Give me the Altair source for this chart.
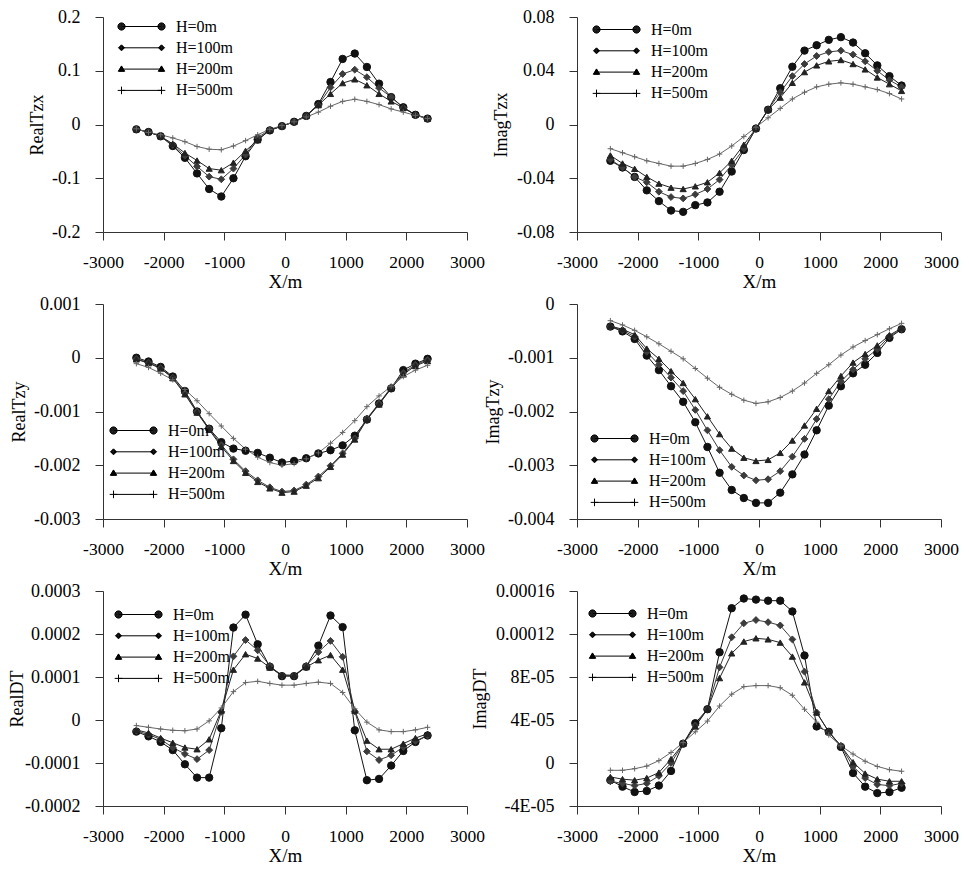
import altair as alt
import pandas as pd

# ---------------- data ----------------
X_M = [-2450, -2250, -2050, -1850, -1650, -1450, -1250, -1050, -850, -650, -450, -250,
       -50, 150, 350, 550, 750, 950, 1150, 1350, 1550, 1750, 1950, 2150, 2350]
SERIES = ["H=0m", "H=100m", "H=200m", "H=500m"]

REAL_TZX_H0 = [-0.009, -0.014, -0.022, -0.040, -0.062, -0.091, -0.120, -0.134, -0.100, -0.059, -0.028, -0.011, -0.003, 0.005, 0.016, 0.038, 0.079, 0.122, 0.132, 0.107, 0.076, 0.051, 0.032, 0.018, 0.011]
REAL_TZX_H100 = [-0.009, -0.014, -0.022, -0.038, -0.058, -0.078, -0.097, -0.102, -0.082, -0.056, -0.024, -0.010, -0.003, 0.005, 0.016, 0.036, 0.069, 0.094, 0.102, 0.088, 0.068, 0.051, 0.031, 0.018, 0.011]
REAL_TZX_H200 = [-0.009, -0.014, -0.022, -0.036, -0.053, -0.067, -0.082, -0.085, -0.071, -0.049, -0.029, -0.010, -0.003, 0.005, 0.016, 0.036, 0.057, 0.077, 0.084, 0.073, 0.057, 0.043, 0.031, 0.018, 0.011]
REAL_TZX_H500 = [-0.008, -0.015, -0.019, -0.025, -0.032, -0.041, -0.046, -0.047, -0.040, -0.030, -0.019, -0.009, -0.002, 0.005, 0.014, 0.023, 0.034, 0.043, 0.047, 0.043, 0.037, 0.029, 0.023, 0.017, 0.011]

IMAG_TZX_H0 = [-0.027, -0.032, -0.039, -0.049, -0.057, -0.064, -0.065, -0.060, -0.058, -0.050, -0.035, -0.019, -0.003, 0.011, 0.027, 0.043, 0.055, 0.059, 0.063, 0.065, 0.061, 0.053, 0.044, 0.036, 0.029]
IMAG_TZX_H100 = [-0.026, -0.032, -0.039, -0.043, -0.050, -0.054, -0.055, -0.052, -0.048, -0.041, -0.030, -0.018, -0.003, 0.011, 0.024, 0.036, 0.045, 0.051, 0.054, 0.055, 0.052, 0.047, 0.040, 0.033, 0.028]
IMAG_TZX_H200 = [-0.023, -0.029, -0.033, -0.039, -0.044, -0.047, -0.048, -0.046, -0.043, -0.036, -0.027, -0.015, -0.003, 0.011, 0.020, 0.031, 0.039, 0.044, 0.047, 0.048, 0.045, 0.041, 0.035, 0.030, 0.025]
IMAG_TZX_H500 = [-0.018, -0.021, -0.024, -0.027, -0.029, -0.031, -0.031, -0.029, -0.026, -0.022, -0.016, -0.009, -0.002, 0.005, 0.012, 0.019, 0.024, 0.028, 0.030, 0.031, 0.030, 0.028, 0.026, 0.023, 0.019]

REAL_TZY_H0 = [0.0, -0.00007, -0.00017, -0.00035, -0.00062, -0.00100, -0.00132, -0.00157, -0.00169, -0.00173, -0.00177, -0.00186, -0.00195, -0.00192, -0.00187, -0.00178, -0.00172, -0.00163, -0.00145, -0.00115, -0.00085, -0.00057, -0.00023, -0.00011, -0.00002]
REAL_TZY_H100 = [-0.00002, -0.00009, -0.00019, -0.00037, -0.00066, -0.00100, -0.00132, -0.00162, -0.00189, -0.00211, -0.00228, -0.00241, -0.00249, -0.00247, -0.00236, -0.00221, -0.00201, -0.00178, -0.00150, -0.00113, -0.00085, -0.00055, -0.00028, -0.00013, -0.00004]
REAL_TZY_H200 = [-0.00003, -0.00010, -0.00020, -0.00038, -0.00068, -0.00102, -0.00134, -0.00165, -0.00192, -0.00214, -0.00231, -0.00243, -0.00251, -0.00249, -0.00238, -0.00224, -0.00203, -0.00180, -0.00152, -0.00115, -0.00087, -0.00057, -0.00031, -0.00015, -0.00006]
REAL_TZY_H500 = [-0.00011, -0.00018, -0.00029, -0.00041, -0.00059, -0.00080, -0.00104, -0.00127, -0.00150, -0.00170, -0.00185, -0.00195, -0.00200, -0.00197, -0.00188, -0.00177, -0.00159, -0.00139, -0.00117, -0.00091, -0.00071, -0.00053, -0.00035, -0.00023, -0.00014]

IMAG_TZY_H0 = [-0.00042, -0.00051, -0.00065, -0.00096, -0.00123, -0.00153, -0.00182, -0.00220, -0.00266, -0.00314, -0.00346, -0.00361, -0.00370, -0.00370, -0.00351, -0.00317, -0.00280, -0.00235, -0.00189, -0.00153, -0.00129, -0.00113, -0.00091, -0.00063, -0.00047]
IMAG_TZY_H100 = [-0.00042, -0.00049, -0.00061, -0.00089, -0.00113, -0.00137, -0.00162, -0.00197, -0.00235, -0.00272, -0.00303, -0.00319, -0.00328, -0.00326, -0.00311, -0.00284, -0.00251, -0.00214, -0.00177, -0.00144, -0.00122, -0.00102, -0.00084, -0.00060, -0.00047]
IMAG_TZY_H200 = [-0.00041, -0.00047, -0.00057, -0.00083, -0.00102, -0.00125, -0.00147, -0.00177, -0.00209, -0.00242, -0.00269, -0.00286, -0.00292, -0.00290, -0.00277, -0.00254, -0.00226, -0.00195, -0.00162, -0.00134, -0.00109, -0.00093, -0.00077, -0.00058, -0.00045]
IMAG_TZY_H500 = [-0.00031, -0.00039, -0.00049, -0.00061, -0.00074, -0.00088, -0.00102, -0.00120, -0.00138, -0.00155, -0.00168, -0.00179, -0.00185, -0.00182, -0.00174, -0.00162, -0.00147, -0.00129, -0.00113, -0.00095, -0.00080, -0.00068, -0.00057, -0.00046, -0.00036]

REAL_DT_H0 = [-0.000027, -0.000038, -0.000051, -0.000070, -0.000103, -0.000134, -0.000134, -0.000019, 0.000215, 0.000245, 0.000176, 0.000124, 0.000102, 0.000102, 0.000124, 0.000173, 0.000243, 0.000216, -0.000024, -0.000140, -0.000137, -0.000106, -0.000072, -0.000051, -0.000036]
REAL_DT_H100 = [-0.000025, -0.000034, -0.000045, -0.000064, -0.000079, -0.000091, -0.000070, 0.000019, 0.000148, 0.000186, 0.000162, 0.000126, 0.000103, 0.000103, 0.000126, 0.000158, 0.000184, 0.000147, 0.000020, -0.000073, -0.000093, -0.000082, -0.000063, -0.000049, -0.000036]
REAL_DT_H200 = [-0.000023, -0.000030, -0.000042, -0.000053, -0.000064, -0.000068, -0.000045, 0.000022, 0.000117, 0.000153, 0.000143, 0.000122, 0.000105, 0.000104, 0.000123, 0.000139, 0.000151, 0.000117, 0.000022, -0.000048, -0.000068, -0.000068, -0.000055, -0.000042, -0.000032]
REAL_DT_H500 = [-0.000013, -0.000017, -0.000021, -0.000024, -0.000025, -0.000021, -0.000002, 0.000028, 0.000066, 0.000087, 0.000090, 0.000085, 0.000081, 0.000081, 0.000085, 0.000088, 0.000085, 0.000064, 0.000026, -0.000005, -0.000023, -0.000027, -0.000027, -0.000023, -0.000017]

IMAG_DT_H0 = [-0.000016, -0.000022, -0.000027, -0.000026, -0.000021, -0.0000074, 0.000018, 0.000037, 0.000050, 0.000103, 0.000144, 0.000153, 0.000152, 0.000151, 0.000151, 0.000141, 0.000100, 0.000034, 0.000029, 0.000015, -0.0000093, -0.000022, -0.000028, -0.000027, -0.000023]
IMAG_DT_H100 = [-0.000017, -0.000019, -0.000021, -0.000019, -0.000012, 0.0, 0.000018, 0.000035, 0.000050, 0.000089, 0.000117, 0.000130, 0.000133, 0.000131, 0.000128, 0.000115, 0.000085, 0.000047, 0.000029, 0.000016, -0.0000032, -0.000014, -0.000020, -0.000021, -0.000019]
IMAG_DT_H200 = [-0.000013, -0.000015, -0.000016, -0.000014, -0.0000089, 0.0000037, 0.000018, 0.000034, 0.000050, 0.000079, 0.000102, 0.000113, 0.000116, 0.000115, 0.000112, 0.000099, 0.000075, 0.000047, 0.000029, 0.000016, 0.0000007, -0.0000098, -0.000015, -0.000017, -0.000017]
IMAG_DT_H500 = [-0.0000068, -0.0000068, -0.0000053, -0.0000029, 0.0000022, 0.0000098, 0.000019, 0.000029, 0.000039, 0.000053, 0.000064, 0.000071, 0.000072, 0.000072, 0.000070, 0.000063, 0.000050, 0.000038, 0.000026, 0.000016, 0.0000083, 0.0000016, -0.0000032, -0.0000062, -0.0000077]

X_TICKS = [-3000, -2000, -1000, 0, 1000, 2000, 3000]
X_TICK_LABELS = ["-3000", "-2000", "-1000", "0", "1000", "2000", "3000"]

Y1_TICKS = [-0.2, -0.1, 0, 0.1, 0.2]
Y1_LABELS = ["-0.2", "-0.1", "0", "0.1", "0.2"]
Y2_TICKS = [-0.08, -0.04, 0, 0.04, 0.08]
Y2_LABELS = ["-0.08", "-0.04", "0", "0.04", "0.08"]
Y3_TICKS = [-0.003, -0.002, -0.001, 0, 0.001]
Y3_LABELS = ["-0.003", "-0.002", "-0.001", "0", "0.001"]
Y4_TICKS = [-0.004, -0.003, -0.002, -0.001, 0]
Y4_LABELS = ["-0.004", "-0.003", "-0.002", "-0.001", "0"]
Y5_TICKS = [-0.0002, -0.0001, 0, 0.0001, 0.0002, 0.0003]
Y5_LABELS = ["-0.0002", "-0.0001", "0", "0.0001", "0.0002", "0.0003"]
Y6_TICKS = [-0.00004, 0, 0.00004, 0.00008, 0.00012, 0.00016]
Y6_LABELS = ["-4E-05", "0", "4E-05", "8E-05", "0.00012", "0.00016"]

# ---------------- style ----------------
FONT = "Liberation Serif"
W, H = 364, 215
LINE_COLORS = ["#111111", "#3c3c3c", "#222222", "#666666"]
POINT_SHAPES = ["circle", "diamond", "triangle-up", "M-1,0L1,0M0,-1L0,1"]
POINT_SIZES = [55, 30, 30, 45]


# legend glyphs: a line with a marker at each end (unit = sqrt(symbolSize)/2 px),
# markers drawn as nested outlines so they look solid with a stroke-only symbol
def _circle(cx, r):
    return f"M{cx - r:.3f},0A{r:.3f},{r:.3f} 0 1,1 {cx + r:.3f},0A{r:.3f},{r:.3f} 0 1,1 {cx - r:.3f},0Z"


def _diamond(cx, r):
    return f"M{cx - r:.3f},0L{cx:.3f},{-r:.3f}L{cx + r:.3f},0L{cx:.3f},{r:.3f}Z"


def _triangle(cx, r):
    return f"M{cx - r:.3f},{0.7 * r:.3f}L{cx:.3f},{-r:.3f}L{cx + r:.3f},{0.7 * r:.3f}Z"


def _nested(fn, r, step=0.05):
    out = []
    for cx in (-2, 2):
        rr = r
        while rr > 0.02:
            out.append(fn(cx, rr))
            rr -= step
    return "".join(out)


LEGEND_SHAPES = [
    "M-2,0L2,0" + _nested(_circle, 0.36),
    "M-2,0L2,0" + _nested(_diamond, 0.30),
    "M-2,0L2,0" + _nested(_triangle, 0.32),
    "M-2,0L2,0M-2.38,0L-1.62,0M-2,-0.38L-2,0.38M1.62,0L2.38,0M2,-0.38L2,0.38",
]


def label_expr(values, labels, eps):
    parts = [f"abs(datum.value - ({v!r})) < {eps!r} ? '{l}'" for v, l in zip(values, labels)]
    return " : ".join(parts) + " : ''"


def panel(title, series, yticks, ylabels, title_x, legend_x, legend_y):
    rows = []
    for name, vals in zip(SERIES, series):
        for x, v in zip(X_M, vals):
            rows.append({"x": x, "v": v, "H": name})
    df = pd.DataFrame(rows)
    eps = abs(yticks[1] - yticks[0]) * 0.01

    xenc = alt.X("x:Q", scale=alt.Scale(domain=[-3000, 3000], nice=False, zero=False),
                 axis=alt.Axis(values=X_TICKS, labelExpr=label_expr(X_TICKS, X_TICK_LABELS, 1.0),
                               title="X/m", titleX=W / 2, titleY=55, titleBaseline="alphabetic",
                               titleAlign="center", titleFontSize=19, labelFontSize=17.5,
                               tickSize=8, labelPadding=13, labelFlush=False, labelOverlap=False))
    yenc = alt.Y("v:Q", scale=alt.Scale(domain=[yticks[0], yticks[-1]], nice=False, zero=False),
                 axis=alt.Axis(values=yticks, labelExpr=label_expr(yticks, ylabels, eps),
                               title=title, titleX=title_x, titleY=H / 2, titleAngle=270,
                               titleBaseline="middle", titleAlign="center", titleFontSize=18,
                               labelFontSize=18, tickSize=8, labelPadding=15, labelOverlap=False,
                               labelFlush=False))
    base = alt.Chart(df)
    lines = base.mark_line(strokeWidth=1).encode(
        x=xenc, y=yenc, detail="H:N",
        color=alt.Color("H:N", scale=alt.Scale(domain=SERIES, range=LINE_COLORS), legend=None))
    pts = base.mark_point(filled=True, strokeWidth=1, opacity=1).encode(
        x=xenc, y=yenc,
        shape=alt.Shape("H:N", scale=alt.Scale(domain=SERIES, range=POINT_SHAPES), legend=None),
        fill=alt.Fill("H:N", scale=alt.Scale(domain=SERIES, range=LINE_COLORS), legend=None),
        stroke=alt.Stroke("H:N", scale=alt.Scale(domain=SERIES, range=LINE_COLORS), legend=None),
        size=alt.Size("H:N", scale=alt.Scale(domain=SERIES, range=POINT_SIZES), legend=None))
    leg = base.transform_filter("datum.x > 100000").mark_point(
        filled=False, color="#000000", strokeWidth=1, opacity=1).encode(
        x=xenc, y=yenc,
        shape=alt.Shape("H:N", scale=alt.Scale(domain=SERIES, range=LEGEND_SHAPES),
                        legend=alt.Legend(orient="none", legendX=legend_x, legendY=legend_y,
                                          title=None, symbolSize=400, symbolStrokeWidth=1,
                                          symbolStrokeColor="#000000",
                                          labelFont=FONT, labelFontSize=16, labelColor="#000000",
                                          labelOffset=24, symbolOffset=13, rowPadding=2.3,
                                          padding=0, labelBaseline="middle")))
    return alt.layer(lines, pts, leg).resolve_scale(shape="independent").properties(width=W, height=H)


panels = [
    panel("RealTzx", [REAL_TZX_H0, REAL_TZX_H100, REAL_TZX_H200, REAL_TZX_H500], Y1_TICKS, Y1_LABELS, -66, 15, -1),
    panel("ImagTzx", [IMAG_TZX_H0, IMAG_TZX_H100, IMAG_TZX_H200, IMAG_TZX_H500], Y2_TICKS, Y2_LABELS, -76, 16, 2),
    panel("RealTzy", [REAL_TZY_H0, REAL_TZY_H100, REAL_TZY_H200, REAL_TZY_H500], Y3_TICKS, Y3_LABELS, -84, 7, 116),
    panel("ImagTzy", [IMAG_TZY_H0, IMAG_TZY_H100, IMAG_TZY_H200, IMAG_TZY_H500], Y4_TICKS, Y4_LABELS, -84, 14, 124),
    panel("RealDT", [REAL_DT_H0, REAL_DT_H100, REAL_DT_H200, REAL_DT_H500], Y5_TICKS, Y5_LABELS, -86, 12, 13),
    panel("ImagDT", [IMAG_DT_H0, IMAG_DT_H100, IMAG_DT_H200, IMAG_DT_H500], Y6_TICKS, Y6_LABELS, -97, 12, 12),
]

chart = alt.concat(*panels, columns=2, spacing=alt.RowColnumber(row=72, column=110),
                   bounds="flush").properties(padding=0)
chart = chart.configure(font=FONT).configure_view(stroke=None).configure_axis(
    grid=False, domainColor="#333333", tickColor="#333333", domainWidth=1, tickWidth=1,
    labelColor="#000000", titleColor="#000000", labelFont=FONT, titleFont=FONT,
    titleFontWeight="normal")

chart.save("out.html", embed_options={"renderer": "svg", "actions": False})
